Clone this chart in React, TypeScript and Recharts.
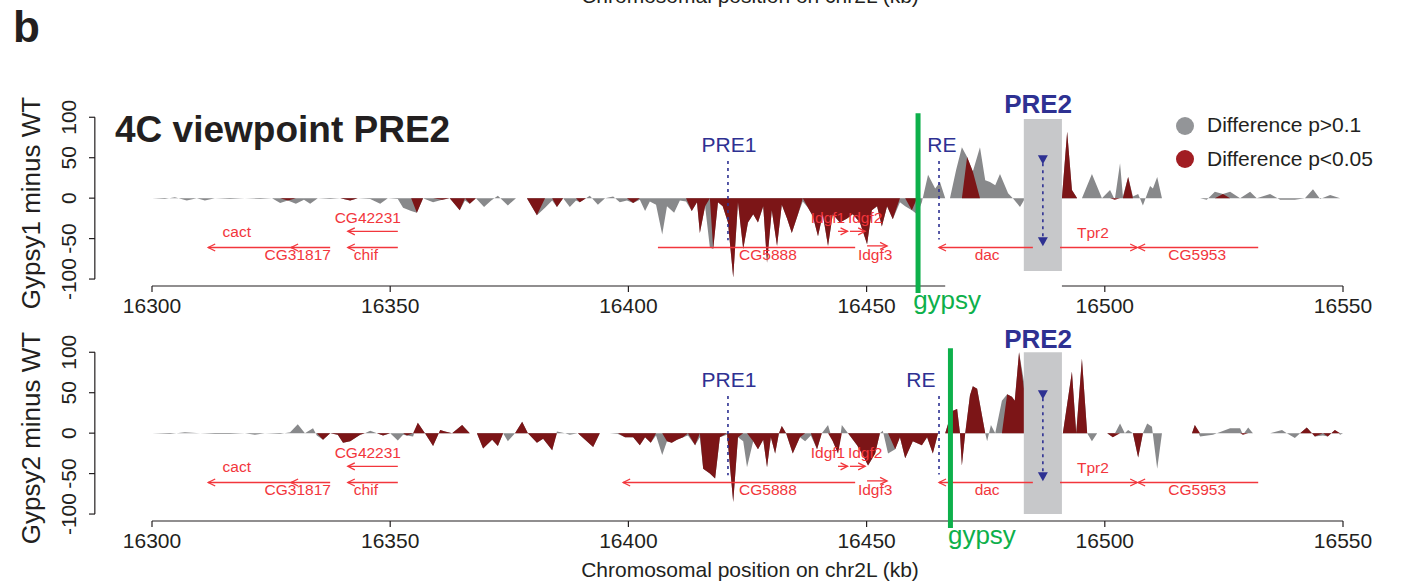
import React from "react";
import {
  ComposedChart,
  Area,
  XAxis,
  YAxis,
  ReferenceLine,
  ReferenceArea,
  ReferenceDot,
  Legend,
} from "recharts";

const FONT = "'Liberation Sans', Arial, Helvetica, sans-serif";
const INK = "#231f20";
const NAVY = "#2e3192";
const GENE = "#f2363c";
const GREEN = "#0db04b";
const GRAY_FILL = "#88898b";
const RED_FILL = "#7c1517";

const xTicks = [16300, 16350, 16400, 16450, 16500, 16550];
const yTicks = [-100, -50, 0, 50, 100];

// Gypsy1 minus WT : window position (kb), difference, significant (1 = p<0.05)
const pos1 = [
  16300.0, 16302.7, 16304.8, 16307.3, 16309.4, 16311.1, 16313.2, 16316.4, 16319.5, 16322.7,
  16325.2, 16326.9, 16328.5, 16330.2, 16331.9, 16333.2, 16334.8, 16337.4, 16339.5, 16341.6,
  16343.2, 16345.8, 16347.9, 16349.5, 16351.6, 16352.7, 16354.4, 16355.6, 16356.9, 16359.0,
  16360.9, 16362.5, 16364.6, 16365.7, 16366.7, 16368.0, 16369.7, 16371.2, 16372.6, 16374.7,
  16376.4, 16378.7, 16380.8, 16382.5, 16384.0, 16385.0, 16386.3, 16387.7, 16389.0, 16389.8,
  16391.1, 16391.9, 16393.6, 16395.1, 16396.8, 16398.2, 16399.7, 16401.0, 16402.4, 16403.5,
  16404.5, 16405.8, 16407.1, 16408.1, 16409.6, 16410.8, 16412.1, 16413.3, 16414.4, 16415.0,
  16416.1, 16417.1, 16417.8, 16418.8, 16419.8, 16420.9, 16422.0, 16423.0, 16424.1, 16425.1,
  16426.2, 16427.2, 16428.3, 16429.1, 16430.1, 16431.2, 16432.2, 16433.3, 16434.3, 16435.6,
  16436.6, 16437.7, 16438.7, 16439.8, 16440.8, 16441.9, 16442.9, 16444.4, 16445.9, 16447.1,
  16448.6, 16450.1, 16451.1, 16452.2, 16453.2, 16454.3, 16455.5, 16457.0, 16458.1, 16459.5,
  16460.6, 16461.6, 16462.9, 16464.4, 16465.4, 16466.5, 16467.5, 16468.8, 16470.0, 16471.1,
  16472.3, 16473.8, 16474.9, 16475.9, 16477.0, 16478.0, 16479.7, 16480.7, 16482.2, 16484.3,
  16487.4, 16491.0, 16492.1, 16493.1, 16494.2, 16495.2, 16497.3, 16499.4, 16501.1, 16502.1,
  16503.2, 16503.8, 16504.9, 16505.9, 16507.0, 16508.0, 16509.5, 16510.1, 16511.0, 16512.0,
  16515.2, 16518.3, 16520.0, 16521.4, 16523.1, 16524.8, 16526.3, 16528.4, 16530.5, 16531.9,
  16534.7, 16536.8, 16539.9, 16542.0, 16543.7, 16545.2, 16547.3, 16549.4, 16550.0,
];
const diff1 = [
  0, -1, 1, -3, 0, -3, 0, -1, 0, -1,
  0, -6, -3, -7, -2, -7, 0, -1, 0, -3,
  0, -1, -7, 0, -1, -12, -16, -18, 0, -5,
  -2, 0, -15, -3, -7, 0, -11, -3, 3, -9,
  0, 0, -21, -12, -3, -11, 0, -11, -3, -5,
  0, 3, -8, 0, 2, -5, -3, -6, -2, -16,
  -4, -8, -45, -10, -18, -3, -4, -16, -5, -43,
  -10, -61, -63, -5, -10, -30, -98, -5, -63, -30,
  -20, -30, -10, -80, -15, -59, -8, -25, -43, -20,
  -4, -12, -22, -47, -20, -59, -20, -30, -25, -20,
  -30, -57, -15, -10, -35, -10, -26, -5, -10, -15,
  -20, -5, 29, 12, 20, 0, 0, 35, 63, 51,
  33, 63, 22, 20, 16, 30, 6, 0, -11, 10,
  15, 0, 82, 10, 0, 0, 30, 0, 10, -2,
  43, 2, 26, 2, 5, -9, 15, 12, 26, 0,
  null, 0, 0, -2, 8, 5, 8, 0, 8, 0,
  5, -2, -2, 0, 11, -1, 4, 0, 0,
];
const sig1 = [
  0, 0, 0, 0, 0, 0, 0, 0, 0, 0,
  0, 0, 1, 0, 0, 0, 0, 0, 0, 1,
  0, 0, 0, 0, 0, 0, 0, 1, 0, 0,
  1, 0, 1, 0, 1, 0, 0, 0, 0, 0,
  0, 0, 1, 0, 0, 1, 0, 0, 0, 1,
  0, 0, 0, 0, 0, 0, 0, 1, 0, 0,
  0, 0, 0, 0, 0, 0, 0, 1, 1, 1,
  1, 0, 1, 1, 1, 1, 1, 1, 1, 1,
  1, 1, 1, 1, 1, 1, 1, 1, 1, 1,
  0, 1, 1, 1, 1, 1, 1, 1, 1, 1,
  1, 1, 1, 1, 1, 1, 1, 0, 0, 1,
  0, 0, 0, 0, 0, 0, 0, 0, 0, 1,
  1, 0, 0, 0, 0, 0, 0, 0, 0, 0,
  0, 0, 1, 1, 0, 0, 0, 0, 0, 1,
  0, 0, 1, 0, 0, 0, 0, 0, 0, 0,
  0, 0, 0, 0, 0, 1, 0, 0, 0, 0,
  0, 0, 0, 0, 0, 0, 0, 0, 0,
];

// Gypsy2 minus WT
const pos2 = [
  16300.0, 16303.8, 16306.9, 16310.1, 16313.2, 16316.4, 16319.5, 16321.6, 16323.7, 16326.9,
  16329.0, 16330.6, 16332.1, 16333.8, 16334.6, 16335.9, 16337.4, 16339.0, 16340.1, 16341.6,
  16343.7, 16344.7, 16345.8, 16347.2, 16348.5, 16350.0, 16351.6, 16352.7, 16353.5, 16354.8,
  16355.8, 16357.3, 16359.0, 16360.5, 16361.5, 16363.0, 16365.1, 16366.7, 16368.2, 16369.5,
  16371.4, 16372.6, 16373.7, 16374.7, 16376.2, 16377.7, 16378.9, 16380.8, 16382.1, 16384.0,
  16385.0, 16386.7, 16387.7, 16389.4, 16390.5, 16392.6, 16394.0, 16396.1, 16397.8, 16399.3,
  16401.0, 16402.4, 16403.5, 16404.7, 16405.8, 16407.1, 16408.1, 16409.1, 16410.2, 16411.5,
  16412.5, 16414.0, 16415.0, 16415.7, 16417.1, 16418.2, 16419.2, 16420.7, 16422.0, 16423.0,
  16424.1, 16424.9, 16426.2, 16427.2, 16428.3, 16429.1, 16429.9, 16430.8, 16431.6, 16432.2,
  16433.1, 16434.5, 16436.0, 16437.1, 16438.3, 16439.6, 16440.6, 16441.9, 16442.9, 16444.0,
  16444.8, 16446.1, 16448.0, 16449.2, 16450.3, 16451.8, 16452.8, 16453.4, 16454.5, 16456.0,
  16457.0, 16458.1, 16459.7, 16461.6, 16462.7, 16463.9, 16465.0, 16466.5, 16467.9, 16469.0,
  16469.6, 16470.0, 16470.7, 16471.7, 16472.3, 16473.2, 16474.9, 16475.3, 16476.1, 16477.0,
  16478.4, 16479.5, 16480.5, 16481.1, 16482.0, 16484.3, 16487.4, 16491.2, 16493.1, 16494.0,
  16495.2, 16496.3, 16497.3, 16498.4, 16500.5, 16501.7, 16503.2, 16504.2, 16504.9, 16505.9,
  16507.0, 16508.0, 16508.9, 16509.9, 16511.0, 16512.0, 16515.2, 16518.3, 16518.9, 16520.0,
  16522.7, 16526.3, 16528.4, 16529.0, 16530.1, 16531.1, 16534.7, 16537.2, 16538.2, 16539.9,
  16541.0, 16542.4, 16544.1, 16545.8, 16546.8, 16548.3, 16549.4, 16550.0,
];
const diff2 = [
  0, -1, 1, 0, -1, -1, 0, -2, 0, -1,
  1, 11, 0, 6, -3, -8, 0, -2, -12, -10,
  -2, 0, 3, 0, -3, 0, -9, -2, -3, -4,
  13, 0, -16, 4, 2, 0, 10, 0, 0, -19,
  -8, -16, 0, -10, 0, 14, 0, -12, -7, -21,
  2, 0, -2, 0, -6, -17, 0, 0, -1, -5,
  -5, -15, -5, -12, -3, -27, -10, -12, -8, -5,
  -3, -15, -5, -44, -50, -56, -5, -2, -85, -5,
  -10, -42, -10, -20, -8, -42, -5, -25, 0, 9,
  0, -25, -5, -10, -3, -20, 0, 10, -10, -25,
  10, 0, -15, -27, -40, -25, 0, 3, -25, -20,
  -5, -31, -10, -15, -5, -25, 0, 0, 27, 30,
  0, -40, 0, 47, 58, 55, 0, -10, 10, 0,
  40, 48, 45, 40, 100, 20, 10, 0, 76, 0,
  92, 0, -10, 0, 0, -5, 12, 0, 4, 0,
  -30, 0, 12, 8, -44, 0, null, 0, 10, -4,
  -2, 6, 6, -2, 7, 0, 0, 4, 0, -6,
  0, 7, -4, -3, -4, 4, -2, 0,
];
const sig2 = [
  0, 0, 0, 0, 0, 0, 0, 0, 0, 0,
  0, 0, 0, 0, 0, 1, 0, 1, 1, 1,
  1, 0, 0, 0, 1, 0, 0, 0, 1, 0,
  1, 0, 1, 1, 1, 0, 1, 0, 0, 1,
  1, 1, 0, 0, 0, 1, 0, 1, 1, 1,
  0, 0, 0, 0, 1, 1, 0, 0, 0, 1,
  1, 1, 1, 1, 0, 0, 1, 1, 1, 1,
  0, 1, 0, 1, 1, 1, 1, 0, 1, 1,
  0, 0, 1, 1, 1, 1, 1, 1, 0, 1,
  0, 1, 1, 0, 0, 1, 0, 0, 1, 1,
  0, 0, 1, 1, 1, 1, 0, 0, 0, 1,
  1, 1, 1, 1, 1, 1, 0, 0, 1, 1,
  1, 1, 0, 1, 1, 1, 0, 0, 0, 0,
  0, 1, 1, 1, 1, 0, 0, 0, 1, 1,
  1, 0, 0, 0, 0, 1, 0, 0, 0, 0,
  1, 0, 0, 0, 0, 0, 0, 0, 1, 0,
  0, 0, 0, 1, 0, 0, 0, 0, 0, 0,
  0, 1, 1, 0, 1, 1, 0, 0,
];

// genes (kb): tail -> head, arrow drawn at the head
const geneNames = ["cact", "CG31817", "chif", "CG42231", "CG5888", "Idgf1", "Idgf2", "Idgf3", "dac", "Tpr2", "CG5953"];
const geneTail = [16330.0, 16337.4, 16351.6, 16351.6, 16447.6, 16444.0, 16446.5, 16450.1, 16484.9, 16490.6, 16532.2];
const geneHead = [16311.8, 16329.2, 16341.1, 16341.1, 16398.9, 16446.0, 16449.7, 16454.3, 16465.2, 16506.8, 16507.0];
const geneRow = [-61, -61, -61, -41, -61, -41, -41, -59, -61, -61, -61];
const geneLabelX = [16317.8, 16330.6, 16344.9, 16345.3, 16429.3, 16441.9, 16449.7, 16451.8, 16475.3, 16497.5, 16519.4];
const geneLabelY = [-41.5, -70, -70, -24, -70, -24, -24, -70, -70, -43, -70];
// in the Gypsy1 track CG5888 is drawn shorter and without arrowhead
const cg5888TopEnd = 16406.2;

// regulatory elements (kb)
const pre1X = 16420.9;
const reX = 16465.2;
const pre2X = 16487.0;
const pre2Box = [16483.0, 16491.0];

function YTick(props: any) {
  const { y, payload } = props;
  return (
    <g>
      <line x1={89} x2={95} y1={y} y2={y} stroke={INK} strokeWidth={1.2} />
      <text
        x={69}
        y={y}
        transform={`rotate(-90 69 ${y})`}
        textAnchor="middle"
        dominantBaseline="central"
        fontSize={21}
        fontFamily={FONT}
        fill={INK}
      >
        {payload.value}
      </text>
    </g>
  );
}

function GeneArrow(props: any) {
  const { x1, y1, x2, y2, head } = props;
  const dir = x2 >= x1 ? 1 : -1;
  return (
    <g>
      <line x1={x1} y1={y1} x2={x2} y2={y2} stroke={GENE} strokeWidth={1.3} />
      {head && (
        <polyline
          points={`${x2 - dir * 7},${y2 - 3.5} ${x2},${y2} ${x2 - dir * 7},${y2 + 3.5}`}
          fill="none"
          stroke={GENE}
          strokeWidth={1.3}
        />
      )}
    </g>
  );
}

const textShape = (txt: string, style: any) => (p: any) => (
  <text
    x={p.cx}
    y={p.cy}
    textAnchor="middle"
    dominantBaseline="central"
    fontFamily={FONT}
    {...style}
  >
    {txt}
  </text>
);

const triDown = (p: any) => (
  <polygon
    points={`${p.cx - 5},${p.cy - 4} ${p.cx + 5},${p.cy - 4} ${p.cx},${p.cy + 5}`}
    fill={NAVY}
  />
);

function LegendBox() {
  return (
    <svg width={240} height={64}>
      <circle cx={13} cy={14} r={9} fill="#939598" />
      <circle cx={13} cy={47} r={9} fill="#a11d22" />
      <text x={35} y={20} fontSize={21} fontFamily={FONT} fill={INK}>
        Difference p&gt;0.1
      </text>
      <text x={35} y={54} fontSize={21} fontFamily={FONT} fill={INK}>
        Difference p&lt;0.05
      </text>
    </svg>
  );
}

interface PanelProps {
  pos: number[];
  diff: (number | null)[];
  sig: number[];
  yLabel: string;
  top: number;
  height: number;
  box: number[];
  gypsyX: number;
  gypsyLabelX: number;
  reLabelX: number;
  axisSpans: number[][];
  first: boolean;
}

function Panel({ pos, diff, sig, yLabel, top, height, box, gypsyX, gypsyLabelX, reLabelX, axisSpans, first }: PanelProps) {
  const data = pos.map((p, i) => ({
    pos: p,
    gray: diff[i],
    red: diff[i] === null ? null : sig[i] ? diff[i] : 0,
  }));
  const yMin = -108.6;

  return (
    <div style={{ position: "absolute", left: 0, top, width: 1405, height }}>
      <ComposedChart
        width={1405}
        height={height}
        data={data}
        margin={{ top: 93, right: 62, bottom: height - 286 - 30, left: 0 }}
      >
        <XAxis
          type="number"
          dataKey="pos"
          domain={[16300, 16550]}
          ticks={xTicks}
          interval={0}
          allowDataOverflow
          axisLine={false}
          tickLine={{ stroke: INK, strokeWidth: 1.2 }}
          tickSize={6}
          tickMargin={6}
          height={30}
          tick={{ fill: INK, fontSize: 21, fontFamily: FONT }}
        />
        <YAxis
          type="number"
          domain={[yMin, 130]}
          ticks={yTicks}
          interval={0}
          allowDataOverflow
          axisLine={false}
          tickLine={false}
          width={152}
          tick={<YTick />}
          label={{
            content: () => (
              <text
                x={31}
                y={203}
                transform="rotate(-90 31 203)"
                textAnchor="middle"
                dominantBaseline="central"
                fontSize={26}
                fontFamily={FONT}
                fill={INK}
              >
                {yLabel}
              </text>
            ),
          }}
        />
        <Area
          dataKey="gray"
          type="linear"
          stroke="none"
          fill={GRAY_FILL}
          fillOpacity={1}
          baseValue={0}
          dot={false}
          activeDot={false}
          isAnimationActive={false}
        />
        <Area
          dataKey="red"
          type="linear"
          stroke="none"
          fill={RED_FILL}
          fillOpacity={1}
          baseValue={0}
          dot={false}
          activeDot={false}
          isAnimationActive={false}
        />

        {/* axis lines */}
        <ReferenceLine
          segment={[{ x: 16288.0, y: -100 }, { x: 16288.0, y: 100 }]}
          stroke={INK}
          strokeWidth={1.2}
          ifOverflow="visible"
        />
        {axisSpans.map((s, i) => (
          <ReferenceLine
            key={"ax" + i}
            segment={[{ x: s[0], y: yMin }, { x: s[1], y: yMin }]}
            stroke={INK}
            strokeWidth={1.2}
            ifOverflow="visible"
          />
        ))}

        {/* PRE2 box */}
        <ReferenceArea
          x1={pre2Box[0]}
          x2={pre2Box[1]}
          y1={box[0]}
          y2={box[1]}
          fill="#c7c8ca"
          fillOpacity={1}
          stroke="none"
          ifOverflow="visible"
        />

        {/* dotted markers */}
        <ReferenceLine
          segment={[{ x: pre1X, y: 46 }, { x: pre1X, y: -52 }]}
          stroke={NAVY}
          strokeWidth={1.6}
          strokeDasharray="3 4"
        />
        <ReferenceLine
          segment={[{ x: reX, y: 46 }, { x: reX, y: -51 }]}
          stroke={NAVY}
          strokeWidth={1.6}
          strokeDasharray="3 4"
        />
        <ReferenceLine
          segment={[{ x: pre2X, y: 43 }, { x: pre2X, y: -48 }]}
          stroke={NAVY}
          strokeWidth={1.6}
          strokeDasharray="3 4"
        />
        <ReferenceDot x={pre2X} y={48.2} shape={triDown} />
        <ReferenceDot x={pre2X} y={-53.2} shape={triDown} />

        {/* genes */}
        {geneNames.map((g, i) => {
          const short = first && g === "CG5888";
          return (
            <ReferenceLine
              key={"g" + g}
              segment={[
                { x: geneTail[i], y: geneRow[i] },
                { x: short ? cg5888TopEnd : geneHead[i], y: geneRow[i] },
              ]}
              ifOverflow="visible"
              shape={(p: any) => <GeneArrow {...p} head={!short} />}
            />
          );
        })}
        {geneNames.map((g, i) => (
          <ReferenceDot
            key={"gl" + g}
            x={geneLabelX[i]}
            y={geneLabelY[i]}
            ifOverflow="visible"
            shape={textShape(g, { fontSize: 15.5, fill: GENE })}
          />
        ))}

        {/* element labels */}
        <ReferenceDot x={16421.1} y={65.8} shape={textShape("PRE1", { fontSize: 21, fill: NAVY })} />
        <ReferenceDot x={reLabelX} y={65.8} shape={textShape("RE", { fontSize: 21, fill: NAVY })} />
        <ReferenceDot
          x={16486.0}
          y={117}
          ifOverflow="visible"
          shape={textShape("PRE2", { fontSize: 26, fontWeight: 700, fill: NAVY })}
        />

        {/* gypsy insertion */}
        <ReferenceLine
          segment={[{ x: gypsyX, y: -117.4 }, { x: gypsyX, y: 105 }]}
          stroke={GREEN}
          strokeWidth={5}
          ifOverflow="visible"
        />
        <ReferenceDot
          x={gypsyLabelX}
          y={-126}
          ifOverflow="visible"
          shape={textShape("gypsy", { fontSize: 26, fill: GREEN })}
        />

        {first && (
          <Legend
            layout="horizontal"
            verticalAlign="middle"
            align="center"
            content={() => <LegendBox />}
            wrapperStyle={{ position: "absolute", left: 1172, top: 112, width: 240, height: 64 }}
          />
        )}
      </ComposedChart>
    </div>
  );
}

export default function App() {
  return (
    <div
      style={{
        position: "absolute",
        left: 0,
        top: 0,
        width: 1405,
        height: 586,
        background: "#fff",
        overflow: "hidden",
        fontFamily: FONT,
      }}
    >
      <Panel
        pos={pos1}
        diff={diff1}
        sig={sig1}
        yLabel="Gypsy1 minus WT"
        top={0}
        height={330}
        box={[-90, 98]}
        gypsyX={16460.8}
        gypsyLabelX={16466.9}
        reLabelX={16465.8}
        axisSpans={[
          [16300, 16466.5],
          [16491.0, 16550],
        ]}
        first
      />
      <Panel
        pos={pos2}
        diff={diff2}
        sig={sig2}
        yLabel="Gypsy2 minus WT"
        top={235}
        height={351}
        box={[-100, 100]}
        gypsyX={16467.6}
        gypsyLabelX={16474.2}
        reLabelX={16461.4}
        axisSpans={[[16300, 16550]]}
        first={false}
      />
      <svg
        width={1405}
        height={586}
        style={{ position: "absolute", left: 0, top: 0, pointerEvents: "none" }}
      >
        <text x={750} y={3} textAnchor="middle" fontSize={21} fontFamily={FONT} fill={INK}>
          Chromosomal position on chr2L (kb)
        </text>
        <text x={13} y={42} fontSize={44} fontWeight={700} fontFamily={FONT} fill={INK}>
          b
        </text>
        <text x={115} y={142} fontSize={37} fontWeight={700} fontFamily={FONT} fill={INK}>
          4C viewpoint PRE2
        </text>
        <text x={750} y={577} textAnchor="middle" fontSize={21} fontFamily={FONT} fill={INK}>
          Chromosomal position on chr2L (kb)
        </text>
      </svg>
    </div>
  );
}
